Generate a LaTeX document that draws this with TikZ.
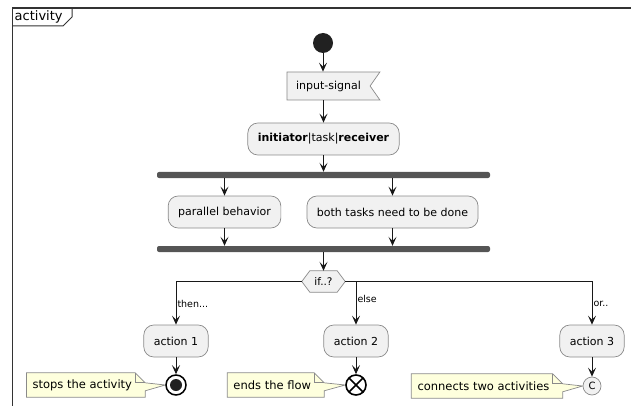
\documentclass[tikz,border=0pt]{standalone}
\usepackage{fontspec}
\setmainfont{DejaVu Sans}
\usetikzlibrary{positioning,shapes.symbols,arrows.meta,backgrounds}

\definecolor{boxfill}{HTML}{F1F1F1}
\definecolor{boxline}{HTML}{8A8A8A}
\definecolor{notefill}{HTML}{FEFFDD}
\definecolor{barfill}{HTML}{555555}
\definecolor{flowline}{HTML}{181818}
\definecolor{frameline}{HTML}{333333}

\tikzset{
  act/.style={draw=boxline, fill=boxfill, line width=0.7pt, rounded corners=10pt,
    minimum height=32pt, inner xsep=10pt, font=\fontsize{11}{13}\selectfont},
  flow/.style={draw=flowline, line width=1pt, -{Stealth[length=9pt,width=8pt,inset=4pt]}},
  bar/.style={fill=barfill, rounded corners=2pt, minimum width=333pt, minimum height=6pt, inner sep=0pt},
  guard/.style={font=\fontsize{9.5}{11}\selectfont, inner sep=1pt},
  notetext/.style={inner xsep=0pt, inner ysep=0pt, minimum height=24pt, font=\fontsize{11.5}{13}\selectfont},
  notebg/.style={draw=boxline, fill=notefill, line width=0.7pt},
}

% note outline with dog-ear and pointer to a target node
\newcommand{\drawnote}[2]{%
  \begin{scope}[on background layer]
    \draw[notebg] ([xshift=-6pt]#1.north west) -- ([xshift=3pt]#1.north east)
      -- ([xshift=13pt,yshift=-10pt]#1.north east) -- (#2.west)
      -- ([xshift=13pt,yshift=-18pt]#1.north east) -- ([xshift=13pt]#1.south east)
      -- ([xshift=-6pt]#1.south west) -- cycle;
    \draw[notebg, fill=none] ([xshift=3pt]#1.north east)
      -- ([xshift=3pt,yshift=-10pt]#1.north east) -- ([xshift=13pt,yshift=-10pt]#1.north east);
  \end{scope}}

\begin{document}
\begin{tikzpicture}[x=1pt, y=-1pt]
  \useasboundingbox (0,0) rectangle (631,406);

  % frame
  \draw[frameline, line width=1.2pt] (12.5,406) -- (12.5,8) -- (631,8);
  \draw[frameline, line width=1pt] (12.5,26) -- (63,26) -- (72,17) -- (72,8);
  \node[anchor=west, inner sep=0pt, font=\fontsize{13}{15}\selectfont] (tab) at (14.5,17) {activity};

  % main flow
  \node[circle, fill=black!87, minimum size=20pt, inner sep=0pt] (start) at (323,43) {};
  \node[signal, signal from=east, signal to=nowhere, signal pointer angle=110,
    draw=boxline, fill=boxfill, line width=0.7pt, minimum width=93pt, minimum height=28pt,
    inner xsep=8pt, font=\fontsize{11}{13}\selectfont] (sig) at (328.5,86) {input-signal};
  \node[act] (init) at (323.5,139) {\textbf{initiator}|task|\textbf{receiver}};
  \node[bar] (fork) at (323.5,175) {};
  \node[act] (paral) at (224.5,212) {parallel behavior};
  \node[act] (both) at (392.5,212) {both tasks need to be done};
  \node[bar] (join) at (323.5,249) {};

  % decision
  \node[minimum width=43pt, minimum height=21pt, inner sep=0pt,
    font=\fontsize{10.5}{12}\selectfont] (iff) at (323.5,281.5) {if..?};
  \draw[draw=boxline, fill=boxfill, line width=0.7pt]
    ([xshift=8pt]iff.north west) -- ([xshift=-8pt]iff.north east) -- (iff.east)
    -- ([xshift=-8pt]iff.south east) -- ([xshift=8pt]iff.south west) -- (iff.west) -- cycle;
  \node[font=\fontsize{10.5}{12}\selectfont] at (iff) {if..?};

  \node[act] (act1) at (176,341) {action 1};
  \node[act] (act2) at (356,341) {action 2};
  \node[act] (act3) at (592,341) {action 3};

  % final nodes
  \node[circle, draw=black, line width=1.5pt, fill=white, minimum size=20pt, inner sep=0pt,
    path picture={\fill[black!87] (path picture bounding box.center) circle (6pt);}] (stop) at (176,385) {};
  \node[circle, draw=black, line width=1.6pt, fill=white, minimum size=20pt, inner sep=0pt,
    path picture={\draw[line width=1.6pt] (path picture bounding box.center) +(45:10pt) -- +(225:10pt)
      (path picture bounding box.center) +(135:10pt) -- +(315:10pt);}] (endf) at (356,385) {};
  \node[circle, draw=boxline, fill=boxfill, line width=0.7pt, minimum size=18pt, inner sep=0pt,
    font=\fontsize{10}{12}\selectfont] (conn) at (592,386) {C};

  % notes
  \node[notetext, left=33pt of stop] (nstop) {stops the activity};
  \node[notetext, left=34pt of endf] (nend) {ends the flow};
  \node[notetext, left=33pt of conn] (nconn) {connects two activities};
  \drawnote{nstop}{stop}
  \drawnote{nend}{endf}
  \drawnote{nconn}{conn}

  % connectors
  \draw[flow] (start) -- (start |- sig.north);
  \draw[flow] (init |- sig.south) -- (init);
  \draw[flow] (init) -- (fork);
  \draw[flow] (paral |- fork.south) -- (paral);
  \draw[flow] (both |- fork.south) -- (both);
  \draw[flow] (paral) -- (paral |- join.north);
  \draw[flow] (both) -- (both |- join.north);
  \draw[flow] (join) -- (iff.north);
  \draw[flow] (iff.west) -| node[guard, pos=0.76, anchor=west] {then...} (act1);
  \draw[flow] (iff.east) -| node[guard, pos=0.76, anchor=west] {or..} (act3);
  \draw[flow] (iff.east -| act2) -- node[guard, pos=0.4, anchor=west] {else} (act2);
  \draw[flow] (act1) -- (stop);
  \draw[flow] (act2) -- (endf);
  \draw[flow] (act3) -- (conn);
\end{tikzpicture}
\end{document}
